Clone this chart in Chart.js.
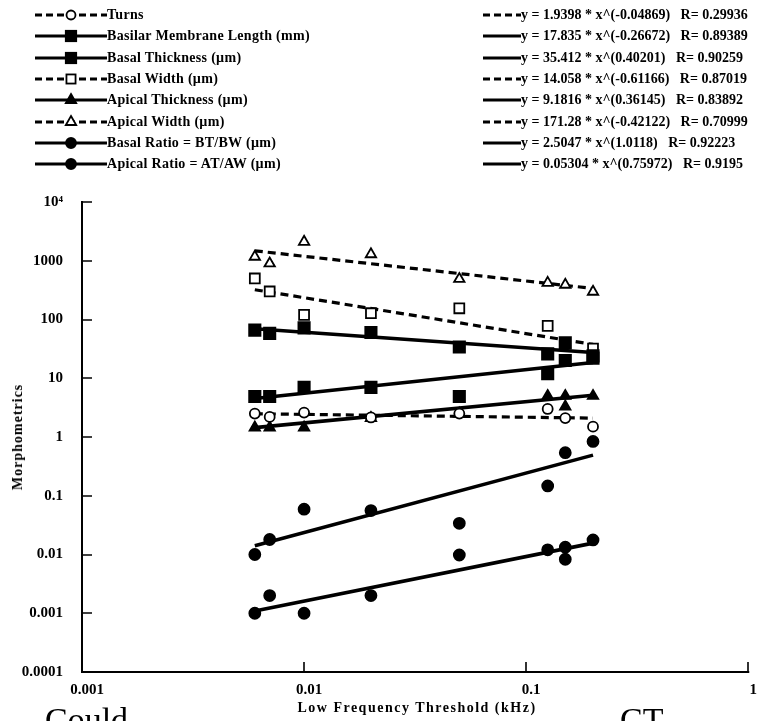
<!DOCTYPE html>
<html>
<head>
<meta charset="utf-8">
<script src="https://cdn.jsdelivr.net/npm/chart.js@4/dist/chart.umd.min.js"></script>
<style>
html,body{margin:0;padding:0;background:#fff;overflow:hidden;width:761px;height:721px}
#wrap{position:relative;width:761px;height:721px;overflow:hidden}
#c{position:absolute;left:0;top:0}
.t{position:absolute;font-family:"Liberation Serif","Times New Roman",serif;font-weight:bold;color:#000;white-space:pre;line-height:16px}
.row{position:absolute;height:16px;display:flex;align-items:center}
.row svg{display:block}
.lab{font-family:"Liberation Serif","Times New Roman",serif;font-weight:bold;font-size:14px;letter-spacing:0.3px;white-space:pre;color:#000}
.eq{font-family:"Liberation Serif","Times New Roman",serif;font-weight:bold;font-size:14px;letter-spacing:0px;white-space:pre;color:#000}
.big{position:absolute;font-family:"Liberation Serif","Times New Roman",serif;font-size:34px;line-height:normal;color:#000;white-space:pre}
</style>
</head>
<body>
<div id="wrap">
<canvas id="c" width="761" height="721"></canvas>
<div id="legend"></div>
<div class="t" id="ytitle" style="font-size:14px;letter-spacing:1px;left:18px;top:437px;transform:translate(-50%,-50%) rotate(-90deg);">Morphometrics</div>
<div class="t" id="xtitle" style="font-size:14px;letter-spacing:1.5px;left:417px;top:708px;transform:translate(-50%,-50%);">Low Frequency Threshold (kHz)</div>
<div class="big" style="left:45px;top:701px;">Could</div>
<div class="big" style="left:620px;top:701px;">CT</div>
</div>
<script>
// ---- data ----
const thresholds      = [0.006, 0.007, 0.01, 0.02, 0.05, 0.125, 0.15, 0.15, 0.2];
const turns           = [2.5, 2.2, 2.6, 2.15, 2.5, 3.0, 2.1, null, 1.5];
const bmLength        = [66, 58, 72, 60, 34, 26, 40, null, 24];
const basalThickness  = [4.9, 4.9, 7.0, 7.0, 4.9, 12, 20, null, 22];
const basalWidth      = [500, 300, 120, 128, 155, 78, null, null, 32];
const apicalThickness = [1.45, 1.45, 1.45, 2.1, 2.5, 5.0, 5.0, 3.3, 5.0];
const apicalWidth     = [1170, 900, 2100, 1290, 490, 420, 390, null, 297];
const basalRatio      = [0.010, 0.018, 0.059, 0.056, 0.034, 0.147, 0.54, null, 0.84];
const apicalRatio     = [0.0010, 0.0020, 0.0010, 0.0020, 0.0098, 0.012, 0.0133, 0.0083, 0.0177];

const seriesNames = ['Turns', 'Basilar Membrane Length (mm)', 'Basal Thickness (\u00b5m)', 'Basal Width (\u00b5m)',
  'Apical Thickness (\u00b5m)', 'Apical Width (\u00b5m)', 'Basal Ratio = BT/BW (\u00b5m)', 'Apical Ratio = AT/AW (\u00b5m)'];
const fitA = ['1.9398', '17.835', '35.412', '14.058', '9.1816', '171.28', '2.5047', '0.05304'];
const fitB = ['-0.04869', '-0.26672', '0.40201', '-0.61166', '0.36145', '-0.42122', '1.0118', '0.75972'];
const fitR = ['0.29936', '0.89389', '0.90259', '0.87019', '0.83892', '0.70999', '0.92223', '0.9195'];

const xTicks = [0.001, 0.01, 0.1, 1];
const xTickLabels = ['0.001', '0.01', '0.1', '1'];
const yTicks = [0.0001, 0.001, 0.01, 0.1, 1, 10, 100, 1000, 10000];
const yTickLabels = ['0.0001', '0.001', '0.01', '0.1', '1', '10', '100', '1000', '10\u2074'];

// ---- styling per series ----
const values = [turns, bmLength, basalThickness, basalWidth, apicalThickness, apicalWidth, basalRatio, apicalRatio];
const markers = [
  {style:'circle', r:5, fill:'#fff'},
  {style:'rect', r:8, fill:'#000'},
  {style:'rect', r:8, fill:'#000'},
  {style:'rect', r:7, fill:'#fff'},
  {style:'triangle', r:6, fill:'#000'},
  {style:'triangle', r:6, fill:'#fff'},
  {style:'circle', r:5.5, fill:'#000'},
  {style:'circle', r:5.5, fill:'#000'}
];
const dashed = [true, false, false, true, false, true, false, false];
const DASH = [8, 5];

const datasets = [];
values.forEach((vals, i) => {
  const pts = [];
  thresholds.forEach((t, j) => { if (vals[j] !== null) pts.push({x: t, y: vals[j]}); });
  datasets.push({
    label: seriesNames[i], data: pts, order: 0,
    pointStyle: markers[i].style, pointRadius: markers[i].r, pointHoverRadius: markers[i].r,
    pointBackgroundColor: markers[i].fill, pointBorderColor: '#000', pointBorderWidth: 1.8,
    showLine: false
  });
  const xs = pts.map(p => p.x);
  const x0 = Math.min(...xs), x1 = Math.max(...xs);
  const a = parseFloat(fitA[i]), b = parseFloat(fitB[i]);
  datasets.push({
    label: 'fit ' + seriesNames[i], order: 1,
    data: [{x: x0, y: a * Math.pow(x0, b)}, {x: x1, y: a * Math.pow(x1, b)}],
    showLine: true, pointRadius: 0, borderColor: '#000', borderWidth: dashed[i] ? 3.2 : 3.6,
    borderDash: dashed[i] ? DASH : [], borderCapStyle: 'butt'
  });
});

const axisPlugin = {
  id: 'inwardAxes',
  afterDraw(chart) {
    const {ctx, chartArea: a, scales: {x, y}} = chart;
    ctx.save();
    ctx.strokeStyle = '#000';
    ctx.lineWidth = 2;
    ctx.beginPath();
    ctx.moveTo(a.left, a.top - 1);
    ctx.lineTo(a.left, a.bottom);
    ctx.lineTo(a.right + 1, a.bottom);
    ctx.stroke();
    ctx.lineWidth = 1.6;
    ctx.beginPath();
    yTicks.forEach(v => { const py = Math.round(y.getPixelForValue(v)); ctx.moveTo(a.left, py); ctx.lineTo(a.left + 10, py); });
    xTicks.slice(1).forEach(v => { const px = Math.round(x.getPixelForValue(v)); ctx.moveTo(px, a.bottom); ctx.lineTo(px, a.bottom - 10); });
    ctx.stroke();
    ctx.restore();
  }
};

const tickFont = {family: '"Liberation Serif", "Times New Roman", serif', size: 15, weight: 'bold'};

new Chart(document.getElementById('c'), {
  type: 'scatter',
  data: {datasets},
  options: {
    responsive: false, animation: false, devicePixelRatio: 1,
    layout: {padding: {top: 202, left: 0, right: 9, bottom: 0}},
    plugins: {legend: {display: false}, tooltip: {enabled: false}},
    scales: {
      x: {
        type: 'logarithmic', min: 0.001, max: 1,
        grid: {display: false, drawTicks: false}, border: {display: false},
        afterBuildTicks: s => { s.ticks = xTicks.map(v => ({value: v})); },
        afterFit: s => { s.height = 49; },
        ticks: {font: tickFont, color: '#000', padding: 9, labelOffset: 5, maxRotation: 0, autoSkip: false,
          callback: (v) => { const k = xTicks.indexOf(v); return k >= 0 ? xTickLabels[k] : ''; }}
      },
      y: {
        type: 'logarithmic', min: 0.0001, max: 10000,
        grid: {display: false, drawTicks: false}, border: {display: false},
        afterBuildTicks: s => { s.ticks = yTicks.map(v => ({value: v})); },
        afterFit: s => { s.width = 82; },
        ticks: {font: tickFont, color: '#000', padding: 19, autoSkip: false,
          callback: (v) => { const k = yTicks.findIndex(t => Math.abs(Math.log10(t) - Math.log10(v)) < 1e-6); return k >= 0 ? yTickLabels[k] : ''; }}
      }
    }
  },
  plugins: [axisPlugin]
});

// ---- legend (HTML text) ----
function markerSvg(m, cx, cy) {
  const sw = 'stroke="#000" stroke-width="1.8"';
  if (m.style === 'circle') return `<circle cx="${cx}" cy="${cy}" r="${m.r - 0.5}" fill="${m.fill}" ${sw}/>`;
  if (m.style === 'rect') { const s = m.r * 1.3; return `<rect x="${cx - s/2}" y="${cy - s/2}" width="${s}" height="${s}" fill="${m.fill}" ${sw}/>`; }
  const r = m.r;
  const p = [[cx, cy - r], [cx + r*0.866, cy + r/2], [cx - r*0.866, cy + r/2]].map(q => q.join(',')).join(' ');
  return `<polygon points="${p}" fill="${m.fill}" ${sw}/>`;
}
const legend = document.getElementById('legend');
const rowY0 = 15, rowDY = 21.3;
seriesNames.forEach((name, i) => {
  const cy = rowY0 + rowDY * i;
  const dash = dashed[i] ? 'stroke-dasharray="7,4"' : '';
  const left = document.createElement('div');
  left.className = 'row';
  left.style.left = '35px'; left.style.top = (cy - 8) + 'px';
  left.innerHTML = `<svg width="72" height="16"><line x1="0" y1="8" x2="72" y2="8" stroke="#000" stroke-width="3" ${dash}/>${markerSvg(markers[i], 36, 8)}</svg><span class="lab">${name}</span>`;
  legend.appendChild(left);
  const right = document.createElement('div');
  right.className = 'row';
  right.style.left = '483px'; right.style.top = (cy - 8) + 'px';
  right.innerHTML = `<svg width="38" height="16"><line x1="0" y1="8" x2="38" y2="8" stroke="#000" stroke-width="3" ${dash}/></svg><span class="eq">y = ${fitA[i]} * x^(${fitB[i]})   R= ${fitR[i]}</span>`;
  legend.appendChild(right);
});
</script>
</body>
</html>
